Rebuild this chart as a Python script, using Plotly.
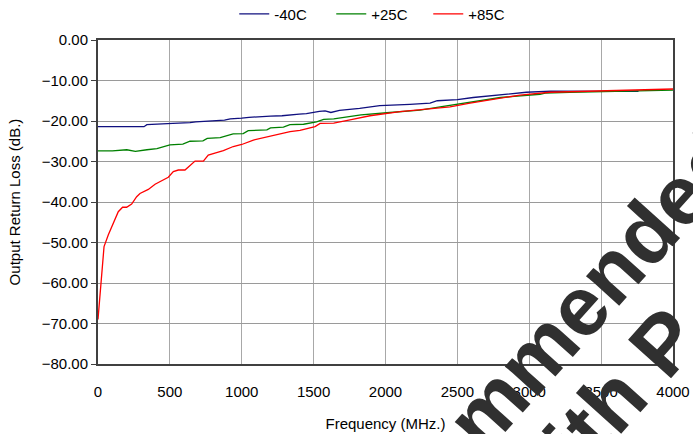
import plotly.graph_objects as go

# ---- data ----
freq_m40 = [0, 320, 340, 480, 520, 640, 680, 880, 920, 1000, 1050, 1200, 1280, 1400, 1450,
            1540, 1580, 1620, 1680, 1820, 1900, 1960, 2170, 2310, 2360, 2500, 2610, 2730,
            2870, 2980, 3150, 3500, 3760]
rl_m40 = [-21.4, -21.4, -20.9, -20.8, -20.6, -20.4, -20.2, -19.8, -19.5, -19.3, -19.1, -18.8,
          -18.7, -18.3, -18.2, -17.6, -17.5, -17.9, -17.4, -16.9, -16.6, -16.2, -15.9, -15.6,
          -15.0, -14.7, -14.2, -13.8, -13.4, -12.9, -12.6, -12.6, -12.7]

freq_p25 = [0, 100, 200, 260, 340, 410, 500, 590, 640, 730, 760, 850, 940, 1010, 1045, 1175,
            1200, 1290, 1335, 1430, 1520, 1570, 1640, 1750, 1830, 2030, 2240, 2380, 2590,
            2800, 3075, 3110, 3280, 3500, 4000]
rl_p25 = [-27.4, -27.4, -27.1, -27.5, -27.1, -26.8, -25.9, -25.7, -25.0, -24.9, -24.3, -24.1,
          -23.2, -23.1, -22.4, -22.2, -21.7, -21.5, -20.9, -20.8, -20.2, -19.6, -19.5, -18.9,
          -18.5, -17.9, -17.3, -16.5, -15.3, -14.2, -13.4, -13.1, -12.9, -12.7, -12.4]

freq_p85 = [0, 21, 42, 72, 95, 118, 141, 171, 199, 234, 269, 292, 350, 397, 443, 489, 524,
            559, 605, 640, 675, 733, 767, 825, 872, 941, 1000, 1081, 1174, 1243, 1336, 1405,
            1510, 1545, 1614, 1640, 1753, 1892, 2101, 2310, 2449, 2588, 2750, 2936, 3144,
            3492, 3770, 4000]
rl_p85 = [-69.0, -60.9, -51.0, -48.1, -46.1, -44.0, -42.4, -41.3, -41.3, -40.5, -38.7, -37.9,
          -36.9, -35.6, -34.8, -33.9, -32.5, -32.1, -32.1, -30.9, -29.9, -29.9, -28.4, -27.8,
          -27.3, -26.3, -25.8, -24.7, -23.9, -23.3, -22.6, -22.3, -21.4, -20.6, -20.6, -20.5,
          -19.7, -18.7, -17.7, -16.9, -16.5, -15.6, -14.6, -13.6, -12.9, -12.5, -12.2, -12.1]

series_names = ["-40C", "+25C", "+85C"]
series_colors = ["#10107f", "#008000", "#ff0000"]

x_ticks = [0, 500, 1000, 1500, 2000, 2500, 3000, 3500, 4000]
y_ticks = [0, -10, -20, -30, -40, -50, -60, -70, -80]

FONT = "Liberation Sans, Arial, sans-serif"

fig = go.Figure()
for name, xs, ys, col in zip(series_names, [freq_m40, freq_p25, freq_p85],
                             [rl_m40, rl_p25, rl_p85], series_colors):
    fig.add_trace(go.Scatter(x=xs, y=ys, mode="lines", name=name,
                             line=dict(color=col, width=1.3)))

fig.update_layout(
    width=693, height=434,
    margin=dict(l=98, r=20, t=40, b=70, autoexpand=False),
    paper_bgcolor="white", plot_bgcolor="white",
    font=dict(family=FONT, size=15, color="#000000"),
    showlegend=True,
    legend=dict(orientation="h", x=0.49, y=1.08, xanchor="center", yanchor="middle",
                font=dict(size=15), bgcolor="rgba(0,0,0,0)", tracegroupgap=0,
                entrywidth=52),
    xaxis=dict(range=[0, 4000], tickvals=x_ticks, ticktext=[str(v) for v in x_ticks],
               showgrid=True, gridcolor="#a8a8a8", gridwidth=1,
               showline=True, linecolor="#404040", linewidth=1.5, mirror=True,
               ticks="", ticklabelstandoff=13, zeroline=False, automargin=False,
               title=dict(text="Frequency (MHz.)", standoff=20, font=dict(size=15))),
    yaxis=dict(range=[-80, 0], tickvals=y_ticks, tickformat=".2f",
               showgrid=True, gridcolor="#9a9a9a", gridwidth=1,
               showline=True, linecolor="#404040", linewidth=2, mirror=True,
               ticks="outside", ticklen=5, tickcolor="#404040", zeroline=False,
               automargin=False,
               title=dict(text="Output Return Loss (dB.)", standoff=17, font=dict(size=15))),
)

# watermark text partially visible in the reference
wm_font = dict(family=FONT, size=84, color="#303030", weight="bold")
fig.add_annotation(text="Not Recommended", xref="paper", yref="paper", x=0.650, y=-0.191,
                   xanchor="center", yanchor="middle", textangle=-48, showarrow=False,
                   font=wm_font)
fig.add_annotation(text="with P", xref="paper", yref="paper", x=0.873, y=-0.154,
                   xanchor="center", yanchor="middle", textangle=-48, showarrow=False,
                   font=wm_font)

fig.write_html("out.html", config={"displayModeBar": False},
               post_script="document.body.style.margin='0';document.body.style.padding='0';")
